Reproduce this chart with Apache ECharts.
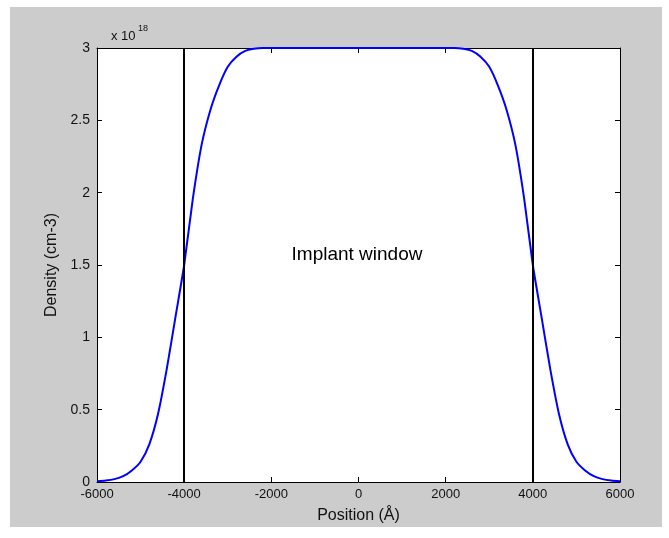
<!DOCTYPE html>
<html>
<head>
<meta charset="utf-8">
<script src="https://cdn.jsdelivr.net/npm/echarts@6/dist/echarts.min.js"></script>
<style>
  html, body { margin: 0; padding: 0; background: #fff; }
  #chart { width: 669px; height: 538px; }
</style>
</head>
<body>
<div id="chart"></div>
<script>
// position in Angstrom, density in units of 1e18 cm-3
const positions = [-6000, -5800, -5600, -5400, -5200, -5000, -4800, -4600, -4400, -4200,
  -4000, -3800, -3600, -3400, -3200, -3000, -2800, -2600, -2400, -2200,
  0,
  2200, 2400, 2600, 2800, 3000, 3200, 3400, 3600, 3800,
  4000, 4200, 4400, 4600, 4800, 5000, 5200, 5400, 5600, 5800, 6000];
const density = [0.005, 0.01, 0.02, 0.04, 0.08, 0.14, 0.26, 0.47, 0.78, 1.14,
  1.5, 1.96, 2.33, 2.57, 2.74, 2.87, 2.94, 2.98, 2.995, 3.0,
  3.0,
  3.0, 2.995, 2.98, 2.94, 2.87, 2.74, 2.57, 2.33, 1.96,
  1.5, 1.14, 0.78, 0.47, 0.26, 0.14, 0.08, 0.04, 0.02, 0.01, 0.005];
const windowEdges = [-4000, 4000];
const xTicks = [-6000, 6000, 2000];   // min, max, interval
const yTicks = [0, 3, 0.5];

const FONT = 'Liberation Sans, Arial, sans-serif';

const getOption = () => {
  const axisCommon = {
    axisLine: { show: true, onZero: false, lineStyle: { color: '#000', width: 1 } },
    axisTick: { show: true, inside: true, length: 5, lineStyle: { color: '#000' } },
    splitLine: { show: false }
  };
  return {
    backgroundColor: '#fff',
    animation: false,
    grid: { left: 97, top: 48, right: 49, bottom: 56, show: true, backgroundColor: '#fff', borderWidth: 0 },
    graphic: [
      { type: 'rect', left: 10, top: 7, z: -10, silent: true, shape: { width: 652, height: 520 }, style: { fill: '#cccccc' } },
      { type: 'text', left: 111, top: 30, style: { text: 'x 10', font: '13px ' + FONT, fill: '#111' } },
      { type: 'text', left: 138, top: 24, style: { text: '18', font: '9px ' + FONT, fill: '#111' } },
      { type: 'text', x: 357, y: 255, z: 10, style: { text: 'Implant window', font: '19px ' + FONT, fill: '#000', align: 'center', verticalAlign: 'middle' } }
    ],
    xAxis: [
      Object.assign({
        type: 'value', min: xTicks[0], max: xTicks[1], interval: xTicks[2],
        name: 'Position (Å)', nameLocation: 'middle', nameGap: 26,
        nameTextStyle: { fontFamily: FONT, fontSize: 16, color: '#111' },
        axisLabel: { fontFamily: FONT, fontSize: 13, color: '#111', margin: 6, formatter: v => String(v) }
      }, axisCommon),
      Object.assign({
        type: 'value', position: 'top', min: xTicks[0], max: xTicks[1], interval: xTicks[2],
        axisLabel: { show: false }
      }, axisCommon)
    ],
    yAxis: [
      Object.assign({
        type: 'value', min: yTicks[0], max: yTicks[1], interval: yTicks[2],
        name: 'Density (cm-3)', nameLocation: 'middle', nameGap: 33,
        nameTextStyle: { fontFamily: FONT, fontSize: 16, color: '#111' },
        axisLabel: { fontFamily: FONT, fontSize: 14, color: '#111', margin: 7 }
      }, axisCommon),
      Object.assign({
        type: 'value', position: 'right', min: yTicks[0], max: yTicks[1], interval: yTicks[2],
        axisLabel: { show: false }
      }, axisCommon)
    ],
    series: [
      {
        type: 'line',
        data: positions.map((p, i) => [p, density[i]]),
        showSymbol: false,
        smooth: 0.2,
        clip: true,
        lineStyle: { color: '#0000ff', width: 2 },
        markLine: {
          silent: true,
          symbol: 'none',
          label: { show: false },
          lineStyle: { color: '#000', width: 2, type: 'solid' },
          data: windowEdges.map(x => ({ xAxis: x }))
        }
      }
    ]
  };
};

window.addEventListener('load', () => {
  const chart = echarts.init(document.getElementById('chart'));
  chart.setOption(getOption());
});
</script>
</body>
</html>
